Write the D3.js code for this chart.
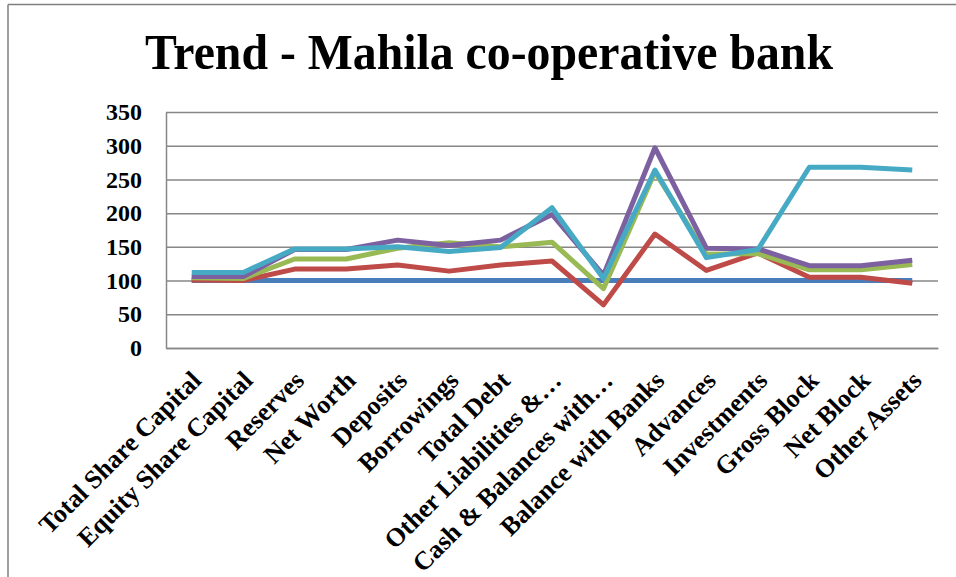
<!DOCTYPE html>
<html>
<head>
<meta charset="utf-8">
<script src="https://cdn.jsdelivr.net/npm/d3@7"></script>
<style>
  body { margin: 0; background: #fff; }
  svg { display: block; font-family: "Liberation Serif", "Times New Roman", serif; }
</style>
</head>
<body>
<div class="chart"></div>
<script>
const categories = ["Total Share Capital", "Equity Share Capital", "Reserves", "Net Worth",
  "Deposits", "Borrowings", "Total Debt", "Other Liabilities &\u2026", "Cash & Balances with\u2026",
  "Balance with Banks", "Advances", "Investments", "Gross Block", "Net Block", "Other Assets"];

// index values (base = 100), one list per line
const series1 = [100, 100, 100, 100, 100, 100, 100, 100, 100, 100, 100, 100, 100, 100, 100];
const series2 = [101, 100, 117, 117, 123, 114, 123, 129, 64, 169, 115, 141, 105, 105, 96];
const series3 = [104, 103, 132, 132, 148, 156, 150, 157, 88, 261, 139, 140, 116, 116, 124];
const series4 = [106, 106, 146, 146, 160, 152, 160, 198, 108, 297, 148, 147, 122, 122, 130];
const series5 = [112, 112, 147, 147, 150, 143, 149, 208, 103, 264, 134, 146, 268, 268, 264];

const yTicks = [0, 50, 100, 150, 200, 250, 300, 350];
const lineColors = ["#4A7EBB", "#BE4B48", "#98B954", "#7D60A0", "#46AAC5"];

const W = 956, H = 577;
const margin = { top: 112, right: 18, bottom: 229, left: 166 };
const width = W - margin.left - margin.right;
const height = H - margin.top - margin.bottom;

const svg = d3.select(".chart").append("svg")
  .attr("width", W)
  .attr("height", H);

// outer frame (only top and left edges are visible)
svg.append("line").attr("x1", 8).attr("x2", W).attr("y1", 4.5).attr("y2", 4.5)
  .attr("stroke", "#7f7f7f").attr("stroke-width", 1.5);
svg.append("line").attr("x1", 8).attr("x2", 8).attr("y1", 4.5).attr("y2", H)
  .attr("stroke", "#7f7f7f").attr("stroke-width", 1.5);

svg.append("text")
  .attr("x", 489)
  .attr("y", 69)
  .attr("text-anchor", "middle")
  .attr("font-size", 50)
  .attr("font-weight", "bold")
  .attr("textLength", 688)
  .attr("lengthAdjust", "spacingAndGlyphs")
  .text("Trend - Mahila co-operative bank");

const g = svg.append("g").attr("transform", `translate(${margin.left},${margin.top})`);

const x = d3.scalePoint()
  .domain(categories)
  .range([0, width])
  .padding(0.5);

const y = d3.scaleLinear()
  .domain([0, 350])
  .range([height, 0]);

// gridlines
g.append("g")
  .call(d3.axisLeft(y).tickValues(yTicks).tickSize(-width).tickFormat(""))
  .call(a => a.select(".domain").remove())
  .selectAll("line")
  .attr("stroke", "#878787")
  .attr("stroke-width", 1.5);

// y axis line + labels
const yAxis = g.append("g")
  .call(d3.axisLeft(y).tickValues(yTicks).tickSize(0).tickPadding(24));
yAxis.select(".domain").attr("stroke", "#878787").attr("stroke-width", 1.5);
yAxis.selectAll("text")
  .attr("font-family", "Liberation Serif, Times New Roman, serif")
  .attr("font-size", 24)
  .attr("font-weight", "bold")
  .attr("fill", "#000");

// x axis line + rotated labels
const xAxis = g.append("g")
  .attr("transform", `translate(0,${height})`)
  .call(d3.axisBottom(x).tickSize(0).tickFormat(""));
xAxis.select(".domain").attr("stroke", "#878787").attr("stroke-width", 1.5);

g.append("g")
  .selectAll("text")
  .data(categories)
  .join("text")
  .attr("transform", d => `translate(${x(d) + 11},${height + 34}) rotate(-45)`)
  .attr("text-anchor", "end")
  .attr("font-size", 26)
  .attr("font-weight", "bold")
  .text(d => d);

const line = d3.line()
  .x((d, i) => x(categories[i]))
  .y(d => y(d));

g.selectAll(".series")
  .data([series1, series2, series3, series4, series5])
  .join("path")
  .attr("class", "series")
  .attr("d", line)
  .attr("fill", "none")
  .attr("stroke", (d, i) => lineColors[i])
  .attr("stroke-width", 5)
  .attr("stroke-linejoin", "round");
</script>
</body>
</html>
